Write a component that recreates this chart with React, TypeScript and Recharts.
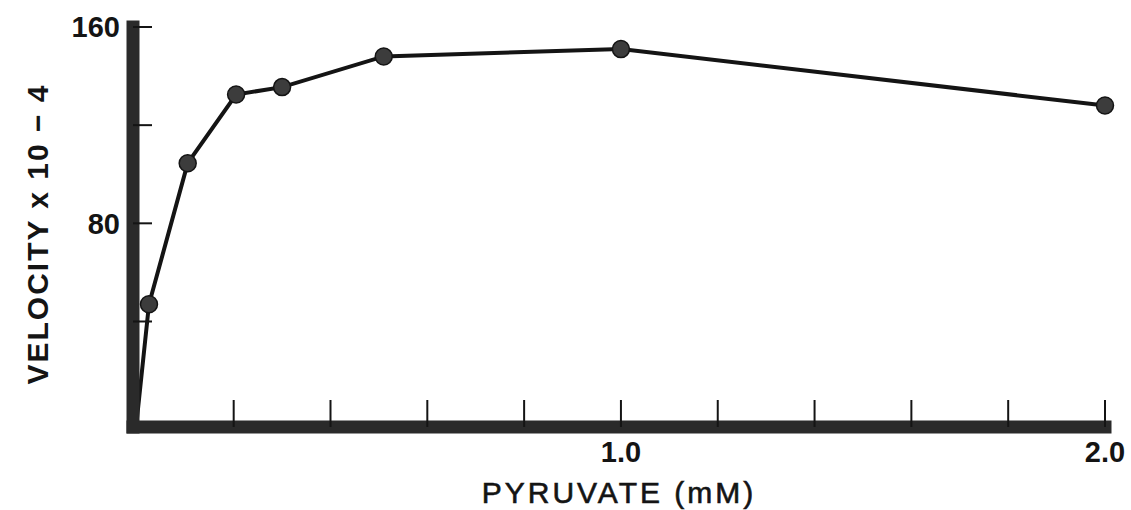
import React from 'react';
import { LineChart, Line, XAxis, YAxis } from 'recharts';

// pyruvate concentration (mM) and velocity (x 10^-4)
const pyruvate = [0, 0.025, 0.105, 0.205, 0.3, 0.51, 1.0, 2.0];
const velocity = [0, 47, 104.5, 132.5, 135.5, 148, 151, 128];

const xTicks = [0.2, 0.4, 0.6, 0.8, 1.0, 1.2, 1.4, 1.6, 1.8, 2.0];
const xLabelled = [1.0, 2.0];
const yTicks = [40, 80, 120, 160];
const yLabelled = [80, 160];

const data = pyruvate.map((x, i) => ({ x, v: velocity[i] }));

const FONT = '"Liberation Sans", Arial, Helvetica, sans-serif';
const INK = '#141414';
const BAR = '#2a2a2a';

const renderDot = (p: any) => {
  // the curve starts at the origin, which has no marker
  if (p.index === 0) return <g key={p.index} />;
  return (
    <circle
      key={p.index}
      cx={p.cx}
      cy={p.cy}
      r={8.5}
      fill="#3c3c3c"
      stroke={INK}
      strokeWidth={1.5}
    />
  );
};

const YTitle = (props: any) => {
  const vb = props.viewBox || { x: 0, y: 0, width: 0, height: 0 };
  const x = vb.x + 48;
  const y = vb.y + vb.height / 2 + 7;
  return (
    <text
      x={x}
      y={y}
      transform={`rotate(-90 ${x} ${y})`}
      textAnchor="middle"
      fontFamily={FONT}
      fontWeight="bold"
      fontSize={30}
      letterSpacing={2}
      fill={INK}
    >
      VELOCITY  x  10 − 4
    </text>
  );
};

export default function App() {
  return (
    <div style={{ position: 'absolute', left: 0, top: 0, background: '#fff' }}>
      <LineChart
        width={1131}
        height={510}
        data={data}
        margin={{ top: 27, right: 26, bottom: 0, left: 0 }}
      >
        <XAxis
          dataKey="x"
          type="number"
          domain={[-0.008, 2]}
          ticks={xTicks}
          interval={0}
          height={83}
          tickSize={-27}
          tickMargin={41}
          tickLine={{ stroke: INK, strokeWidth: 2 }}
          axisLine={{ stroke: BAR, strokeWidth: 13, strokeLinecap: 'square' }}
          tickFormatter={(t: number) => (xLabelled.includes(t) ? t.toFixed(1) : '')}
          tick={{ fill: INK, fontFamily: FONT, fontWeight: 'bold', fontSize: 29 }}
          label={{
            value: 'PYRUVATE (mM)',
            position: 'insideBottom',
            offset: 7,
            style: {
              fill: INK,
              stroke: INK,
              strokeWidth: 0.6,
              fontFamily: FONT,
              fontSize: 30,
              letterSpacing: 3,
            },
          }}
        />
        <YAxis
          type="number"
          domain={[-3, 160]}
          ticks={yTicks}
          interval={0}
          width={133}
          tickSize={-19}
          tickMargin={32}
          tickLine={{ stroke: INK, strokeWidth: 2 }}
          axisLine={{ stroke: BAR, strokeWidth: 13, strokeLinecap: 'square' }}
          tickFormatter={(t: number) => (yLabelled.includes(t) ? String(t) : '')}
          tick={{ fill: INK, fontFamily: FONT, fontWeight: 'bold', fontSize: 29 }}
          label={{ content: <YTitle /> }}
        />
        <Line
          dataKey="v"
          type="linear"
          stroke={INK}
          strokeWidth={4}
          dot={renderDot}
          activeDot={false}
          isAnimationActive={false}
        />
      </LineChart>
    </div>
  );
}
